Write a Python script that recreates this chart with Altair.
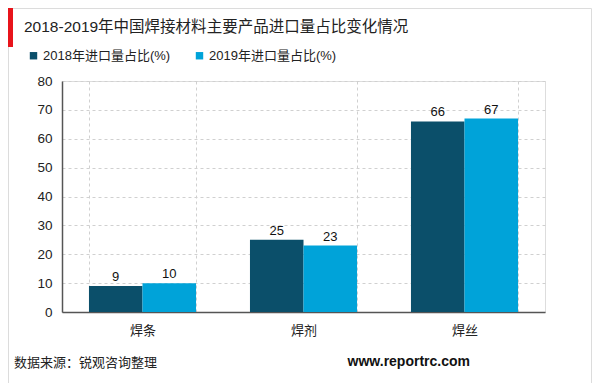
import altair as alt
import pandas as pd

categories = ["焊条", "焊剂", "焊丝"]
series_names = ["2018年进口量占比(%)", "2019年进口量占比(%)"]
values_2018 = [9, 25, 66]
values_2019 = [10, 23, 67]
y_ticks = [0, 10, 20, 30, 40, 50, 60, 70, 80]
source_parts = ["数据来源", "：", "锐观咨询整理"]

rows = []
for c, a, b in zip(categories, values_2018, values_2019):
    rows.append({"cat": c, "series": series_names[0], "value": a})
    rows.append({"cat": c, "series": series_names[1], "value": b})
df = pd.DataFrame(rows)

FONT = "Liberation Sans, Arial, Noto Sans CJK SC"
CJK = "Noto Sans CJK SC"
colors = ["#0b4f6a", "#00a3d9"]

x_enc = alt.X("cat:N", sort=categories, title=None,
              scale=alt.Scale(paddingInner=0.335, paddingOuter=0.1675),
              axis=alt.Axis(labelAngle=0, labelFontSize=13, labelColor="#222",
                            labelPadding=12, ticks=False, domainColor="#555",
                            domainWidth=1.5, tickBand="extent", grid=True,
                            gridDash=[3, 3], gridColor="#d0d0d0",
                            labelFont=FONT))
y_enc = alt.Y("value:Q", title=None,
              scale=alt.Scale(domain=[0, 80], nice=False),
              axis=alt.Axis(values=y_ticks, labelFontSize=13.5, labelColor="#222",
                            labelPadding=10, ticks=False, domainColor="#555",
                            domainWidth=1.5, grid=True, gridDash=[3, 3],
                            gridColor="#d0d0d0", labelFont=FONT,
                            labelOverlap=False))
xoff = alt.XOffset("series:N", sort=series_names)

base = alt.Chart(df).encode(x=x_enc, xOffset=xoff, y=y_enc)

bars = base.mark_bar(stroke=None).encode(
    color=alt.Color("series:N", sort=series_names,
                    scale=alt.Scale(domain=series_names, range=colors),
                    legend=alt.Legend(title=None, orient="none", legendX=-35,
                                      legendY=-32, direction="horizontal",
                                      symbolType="square", symbolSize=55,
                                      symbolStrokeWidth=0, labelFontSize=13,
                                      labelColor="#222", labelFont=FONT,
                                      columnPadding=22, symbolOffset=0,
                                      labelOffset=3, labelLimit=300)),
)

labels = base.mark_text(dy=-9, fontSize=13, color="#111", font=FONT).encode(
    text="value:Q",
)

ann = pd.DataFrame({"k": [0]})
red_bar = alt.Chart(ann).mark_rect(color="#e8141b").encode(
    x=alt.value(-54), x2=alt.value(-49), y=alt.value(-73), y2=alt.value(-34))
frame = alt.Chart(ann).mark_rect(fill=None, stroke="#dcdcdc", strokeWidth=1).encode(
    x=alt.value(-53.5), x2=alt.value(529.5), y=alt.value(-72.5), y2=alt.value(302.5))
title = alt.Chart(ann).mark_text(text="2018-2019年中国焊接材料主要产品进口量占比变化情况",
                                  align="left", baseline="middle", fontSize=15.5,
                                  color="#222", font=FONT).encode(
    x=alt.value(-38), y=alt.value(-54))
src_df = pd.DataFrame({"t": ["".join(source_parts)]})
source = alt.Chart(src_df).mark_text(align="left", baseline="middle", fontSize=13,
                                      color="#222", font=CJK).encode(
    text="t:N", x=alt.value(-48), y=alt.value(282))
site = alt.Chart(ann).mark_text(text="www.reportrc.com", align="right",
                                 baseline="middle", fontSize=14, fontWeight="bold",
                                 color="#111", font=FONT).encode(
    x=alt.value(408), y=alt.value(281))

chart = alt.layer(frame, red_bar, title, bars, labels, source, site).properties(
    width=483, height=231,
    autosize=alt.AutoSizeParams(type="none"),
    padding={"left": 54, "top": 73, "right": 47, "bottom": 71},
).configure_view(stroke="#d8d8d8").configure(background="white")

chart.save("out.html", embed_options={"renderer": "svg", "actions": False})
